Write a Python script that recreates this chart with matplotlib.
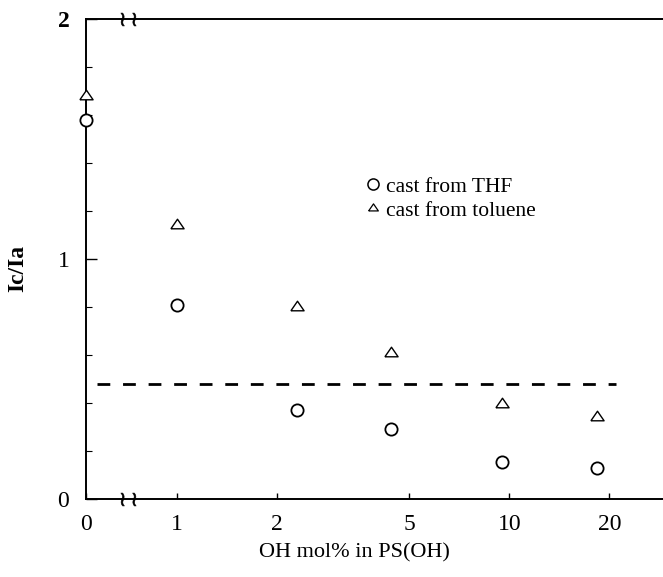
import numpy as np
import matplotlib
matplotlib.use('Agg')
import matplotlib.pyplot as plt
from matplotlib.lines import Line2D
import matplotlib.transforms as mtransforms

# ---------------------------------------
# data
# ---------------------------------------
oh_mol = [0, 1, 2.3, 4.4, 9.5, 18.4]          # OH mol% in PS(OH)
ratio_thf = [1.58, 0.81, 0.37, 0.29, 0.155, 0.13]
ratio_tol = [1.68, 1.14, 0.80, 0.61, 0.395, 0.34]
ref_x = [0.12, 20.9]
ref_y = [0.48, 0.48]
xticks = [0, 1, 2, 5, 10, 20]
xticklabels = ['0', '1', '2', '5', '10', '20']
yticks = [0, 1, 2]

# broken axis: linear from 0 to 1, log above 1
GAP = 0.274   # width of the 0..1 piece, in decades

def fwd(x):
    x = np.asarray(x, dtype=float)
    return np.where(x < 1, x * GAP, GAP + np.log10(np.maximum(x, 1e-12)))

def inv(u):
    u = np.asarray(u, dtype=float)
    return np.where(u < GAP, u / GAP, 10 ** (u - GAP))

serif = 'Liberation Serif'
plt.rcParams['font.family'] = serif

fig = plt.figure(figsize=(6.63, 5.77), dpi=100)
ax = fig.add_axes([86/663, 1 - 499/577, 577/663, 480/577])
ax.set_xscale('function', functions=(fwd, inv))

tri = [(-1, -0.5), (1, -0.5), (0, 0.95), (-1, -0.5)]

ax.plot(oh_mol, ratio_thf, linestyle='none', marker='o', ms=8.8,
        mfc='white', mec='black', mew=1.3, clip_on=False, zorder=5)
ax.plot(oh_mol, ratio_tol, linestyle='none', marker=tri, ms=9.5,
        mfc='white', mec='black', mew=1.0, clip_on=False, zorder=5)
ax.plot(ref_x, ref_y, color='black', lw=2, dashes=[4.6, 4.6])

ax.set_xlim(0, 29)
ax.set_ylim(0, 2)

ax.spines['right'].set_visible(False)
for s in ['left', 'top', 'bottom']:
    ax.spines[s].set_linewidth(1.4)

ax.set_xticks(xticks)
ax.set_xticklabels(xticklabels, fontsize=17, family=serif)
ax.xaxis.set_minor_locator(matplotlib.ticker.NullLocator())
ax.tick_params(axis='x', direction='in', length=4, width=1, pad=11)

ax.set_yticks(yticks)
ax.set_yticks(np.arange(0, 2.01, 0.2), minor=True)
ax.tick_params(axis='y', which='major', direction='in', length=8, width=1, pad=12)
ax.tick_params(axis='y', which='minor', direction='in', length=4, width=0.8)
ylabs = ax.set_yticklabels(['0', '1', '2'], fontsize=17)
ylabs[2].set_fontweight('bold')

ax.set_ylabel('Ic/Ia', fontsize=17, fontweight='bold', family=serif)
ax.yaxis.set_label_coords(-0.1, 0.48)
ax.set_xlabel('OH mol% in PS(OH)', fontsize=16, family=serif)
ax.xaxis.set_label_coords(0.466, -0.093)

# axis break marks on top and bottom spines
brk = mtransforms.blended_transform_factory(ax.transData, ax.transAxes)
for yy in [0, 1]:
    ax.plot([0.46], [yy], transform=brk, marker=r'$\wr\wr$', ms=11,
            color='black', mec='black', mfc='black', clip_on=False, zorder=6,
            markeredgewidth=0.4)

handles = [Line2D([], [], linestyle='none', marker='o', ms=8, mfc='white',
                  mec='black', mew=1.1),
           Line2D([], [], linestyle='none', marker=tri, ms=7, mfc='white',
                  mec='black', mew=0.9)]
ax.legend(handles, ['cast from THF', 'cast from toluene'],
          loc='upper left', bbox_to_anchor=(0.485, 0.672), frameon=False,
          fontsize=15.5, handlelength=0.7, handletextpad=0.25,
          labelspacing=0.2, borderpad=0, borderaxespad=0)

fig.savefig('out.png', dpi=100)
